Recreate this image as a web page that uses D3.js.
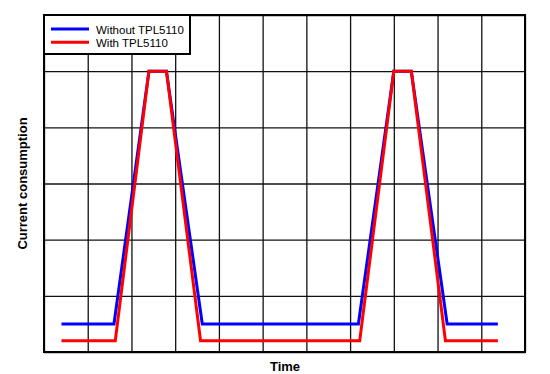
<!DOCTYPE html>
<html>
<head>
<meta charset="utf-8">
<script src="https://cdn.jsdelivr.net/npm/d3@7"></script>
<style>
  body { margin: 0; background: #fff; }
  text { font-family: "Liberation Sans", Arial, sans-serif; }
</style>
</head>
<body>
<div id="chart"></div>
<script>
// series in grid units: x = time (11 columns), y = current (6 rows)
var seriesNames = ["Without TPL5110", "With TPL5110"];
var seriesColors = ["#0000ff", "#ff0000"];
var withoutX = [0.4, 1.6, 2.4, 2.8, 3.62, 7.19, 8.0, 8.4, 9.22, 10.38];
var withoutY = [0.5, 0.5, 5, 5, 0.5, 0.5, 5, 5, 0.5, 0.5];
var withX = [0.4, 1.63, 2.4, 2.8, 3.58, 7.22, 8.0, 8.4, 9.18, 10.38];
var withY = [0.2, 0.2, 5, 5, 0.2, 0.2, 5, 5, 0.2, 0.2];
var xTicks = d3.range(0, 12);
var yTicks = d3.range(0, 7);

var margin = { top: 15, right: 25, bottom: 22, left: 44 },
  width = 550 - margin.left - margin.right,
  height = 374 - margin.top - margin.bottom;

var svg = d3.select("#chart")
  .append("svg")
  .attr("width", 550)
  .attr("height", 374);

var g = svg.append("g")
  .attr("transform", "translate(" + margin.left + "," + margin.top + ")");

var x = d3.scaleLinear().domain([0, 11]).range([0, width]);
var y = d3.scaleLinear().domain([0, 6]).range([height, 0]);

// grid
g.append("g")
  .attr("transform", "translate(0," + height + ")")
  .call(d3.axisBottom(x).tickValues(xTicks).tickSize(-height).tickFormat(""))
  .call(a => a.select(".domain").remove())
  .selectAll("line").attr("stroke", "#111").attr("stroke-width", 1.3);

g.append("g")
  .call(d3.axisLeft(y).tickValues(yTicks).tickSize(-width).tickFormat(""))
  .call(a => a.select(".domain").remove())
  .selectAll("line").attr("stroke", "#111").attr("stroke-width", 1.3);

// frame
g.append("rect")
  .attr("width", width).attr("height", height)
  .attr("fill", "none").attr("stroke", "#000").attr("stroke-width", 2);

var line = d3.line().x(d => x(d[0])).y(d => y(d[1]));
var series = [d3.zip(withoutX, withoutY), d3.zip(withX, withY)];

g.selectAll(".series")
  .data(series)
  .enter().append("path")
  .attr("class", "series")
  .attr("d", line)
  .attr("fill", "none")
  .attr("stroke", (d, i) => seriesColors[i])
  .attr("stroke-width", 3)
  .attr("stroke-linejoin", "miter");

// legend
var legend = g.append("g");
legend.append("rect")
  .attr("x", 0).attr("y", 0)
  .attr("width", 146).attr("height", 39)
  .attr("fill", "#fff").attr("stroke", "#000").attr("stroke-width", 2);

seriesNames.forEach(function (name, i) {
  var ly = 14 + i * 13.3;
  legend.append("line")
    .attr("x1", 7).attr("x2", 45)
    .attr("y1", ly).attr("y2", ly)
    .attr("stroke", seriesColors[i]).attr("stroke-width", 3);
  legend.append("text")
    .attr("x", 52).attr("y", ly + 4.5)
    .attr("font-size", "11.5px")
    .attr("fill", "#000")
    .text(name);
});

// axis titles
svg.append("text")
  .attr("transform", "translate(27," + (margin.top + height / 2) + ") rotate(-90)")
  .attr("text-anchor", "middle")
  .attr("font-size", "13px")
  .attr("font-weight", "bold")
  .text("Current consumption");

svg.append("text")
  .attr("x", 285).attr("y", 371)
  .attr("text-anchor", "middle")
  .attr("font-size", "13px")
  .attr("font-weight", "bold")
  .text("Time");
</script>
</body>
</html>
